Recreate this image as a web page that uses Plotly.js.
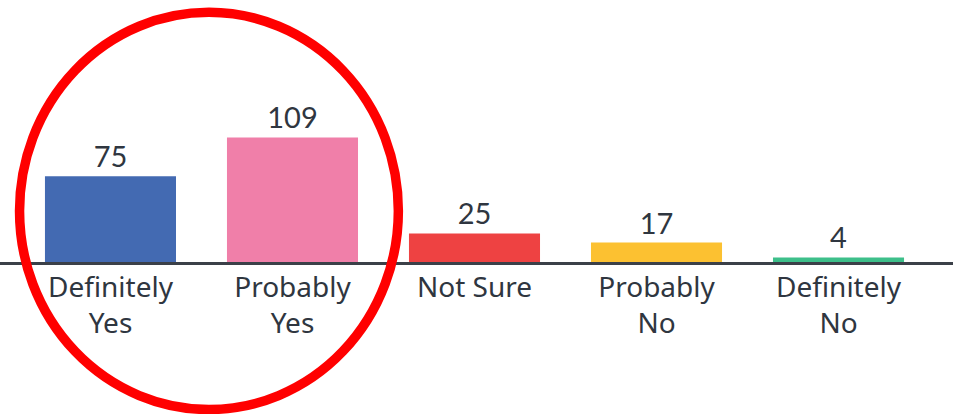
<!DOCTYPE html>
<html>
<head>
<meta charset="utf-8">
<script src="https://cdn.plot.ly/plotly-3.0.1.min.js"></script>
<style>html,body{margin:0;padding:0;background:#fff;}#chart{width:953px;height:414px;}</style>
</head>
<body>
<div id="chart"></div>
<script>
const categories = ["Definitely<br>Yes", "Probably<br>Yes", "Not Sure", "Probably<br>No", "Definitely<br>No"];
const values = [75, 109, 25, 17, 4];
const barColors = ["#436AB2", "#F07FA9", "#EE4242", "#FCC131", "#3DBF8A"];

const trace = {
  type: "bar",
  x: categories,
  y: values,
  text: values.map(String),
  textposition: "outside",
  cliponaxis: false,
  textfont: {family: "Lato, 'Noto Sans', sans-serif", size: 29, color: "#2f3640"},
  marker: {color: barColors, line: {width: 0}},
  hoverinfo: "skip"
};

const layout = {
  width: 953, height: 414,
  margin: {l: 0, r: 0, t: 0, b: 152, pad: 0},
  paper_bgcolor: "#ffffff", plot_bgcolor: "#ffffff",
  showlegend: false,
  bargap: 0.28,
  xaxis: {
    type: "category",
    range: [-0.607, 4.629],
    showline: true, linecolor: "#3b4048", linewidth: 3,
    showgrid: false, zeroline: false, ticks: "",
    ticklabelstandoff: -2,
    tickfont: {family: "'Noto Sans', Lato, sans-serif", size: 28, color: "#2f3640"},
    fixedrange: true
  },
  yaxis: {
    range: [0, 229.2],
    visible: false, showgrid: false, zeroline: false, fixedrange: true
  },
  shapes: [{
    type: "circle", xref: "paper", yref: "paper",
    x0: 0.0205, x1: 0.418, y0: -0.563, y1: 0.953,
    line: {color: "#FF0000", width: 9.5}, fillcolor: "rgba(0,0,0,0)"
  }]
};

Plotly.newPlot("chart", [trace], layout, {displayModeBar: false, staticPlot: true});
</script>
</body>
</html>
